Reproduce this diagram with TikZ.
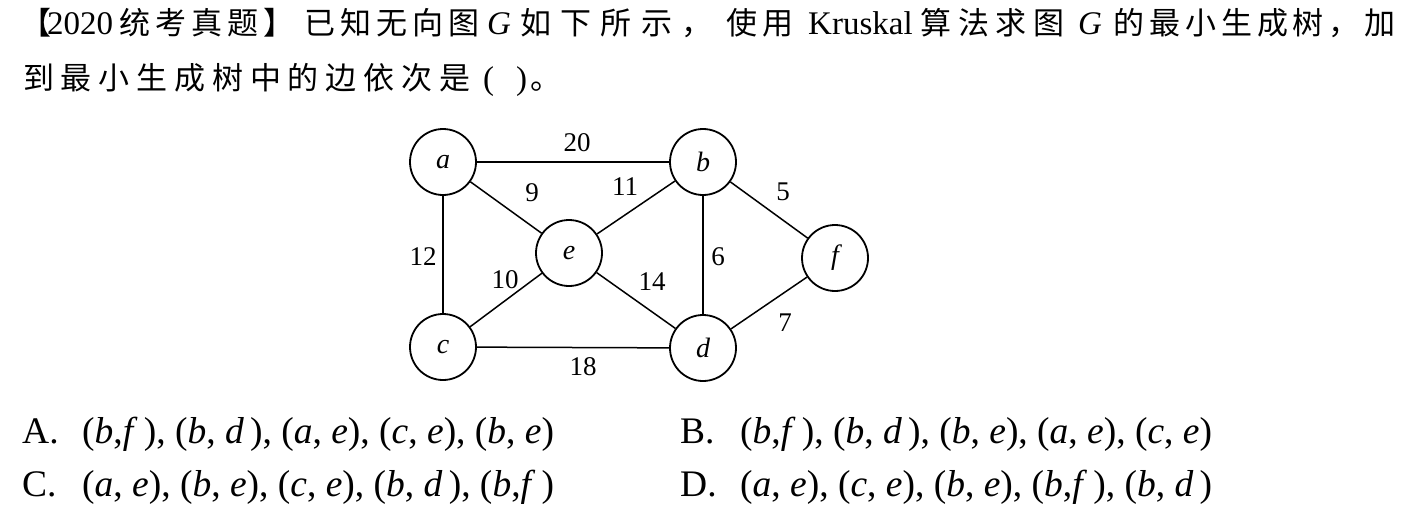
\documentclass[tikz,border=0pt]{standalone}
\usepackage{fontspec}
\setmainfont{Liberation Serif}
\newfontfamily\cjk[LetterSpace=16]{Noto Sans CJK SC}
\newfontfamily\cjkw[LetterSpace=22]{Noto Sans CJK SC}
\newfontfamily\cjkx[LetterSpace=30]{Noto Sans CJK SC}
\begin{document}
\begin{tikzpicture}[x=1pt,y=-1pt,
  vtx/.style={circle,draw,line width=1.8pt,minimum size=66pt,inner sep=0pt,font=\fontsize{28}{30}\selectfont\itshape},
  edg/.style={line width=1.5pt},
  wt/.style={inner sep=0pt,font=\fontsize{27}{30}\selectfont},
  txt/.style={inner sep=0pt,anchor=base west,font=\fontsize{33}{36}\selectfont},
  opt/.style={inner sep=0pt,anchor=base west,font=\fontsize{37.5}{40}\selectfont}]
\useasboundingbox[fill=white] (0,0) rectangle (1420,508);
% question text, line 1
\node[txt] (q1a) at (20,35) {{\cjk\fontsize{31}{36}\selectfont 【}\hspace{-4pt}2020\hspace{6pt}{\cjk\fontsize{31}{36}\selectfont 统考真题】}};
\node[txt] (q1i) at (304,35) {\cjk\fontsize{31}{36}\selectfont 已知无向图};
\node[txt] (q1b) at (487,35) {\textit{G}};
\node[txt] (q1c) at (520,35) {\cjkx\fontsize{31}{36}\selectfont 如下所示，};
\node[txt] (q1h) at (726,35) {\cjk\fontsize{31}{36}\selectfont 使用};
\node[txt] (q1d) at (808,35) {Kruskal};
\node[txt] (q1e) at (920,35) {\cjkw\fontsize{31}{36}\selectfont 算法求图};
\node[txt] (q1f) at (1078,35) {\textit{G}};
\node[txt] (q1g) at (1113,35) {\cjk\fontsize{31}{36}\selectfont 的最小生成树，加};
% line 2
\node[txt] (q2a) at (23,90) {\cjkw\fontsize{31}{36}\selectfont 到最小生成树中的边依次是};
\node[txt] (q2b) at (483,90) {(\hspace{22pt})};
\node[txt] (q2c) at (530,90) {\cjk\fontsize{31}{36}\selectfont 。};
% vertices
\node[vtx] (a) at (443,162) {a};
\node[vtx] (b) at (703,162) {b};
\node[vtx] (c) at (443,347) {c};
\node[vtx] (d) at (703,348) {d};
\node[vtx] (e) at (569,253) {e};
\node[vtx] (f) at (835,258) {f};
% edges
\draw[edg] (a) -- (b);
\draw[edg] (a) -- (e);
\draw[edg] (a) -- (c);
\draw[edg] (b) -- (e);
\draw[edg] (b) -- (d);
\draw[edg] (b) -- (f);
\draw[edg] (e) -- (c);
\draw[edg] (e) -- (d);
\draw[edg] (c) -- (d);
\draw[edg] (d) -- (f);
% weights
\node[wt] (w20) at (577,143) {20};
\node[wt] (w9) at (532,193) {9};
\node[wt] (w11) at (625,187) {11};
\node[wt] (w5) at (783,192) {5};
\node[wt] (w12) at (423,257) {12};
\node[wt] (w10) at (505,280) {10};
\node[wt] (w14) at (652,282) {14};
\node[wt] (w6) at (718,257) {6};
\node[wt] (w7) at (785,323) {7};
\node[wt] (w18) at (583,367) {18};
% options
\node[opt] (oA) at (22,443) {\makebox[60pt][l]{A.}(\textit{b},\textit{f}\,), (\textit{b}, \textit{d}\,), (\textit{a}, \textit{e}), (\textit{c}, \textit{e}), (\textit{b}, \textit{e})};
\node[opt] (oB) at (680,443) {\makebox[60pt][l]{B.}(\textit{b},\textit{f}\,), (\textit{b}, \textit{d}\,), (\textit{b}, \textit{e}), (\textit{a}, \textit{e}), (\textit{c}, \textit{e})};
\node[opt] (oC) at (22,496) {\makebox[60pt][l]{C.}(\textit{a}, \textit{e}), (\textit{b}, \textit{e}), (\textit{c}, \textit{e}), (\textit{b}, \textit{d}\,), (\textit{b},\textit{f}\,)};
\node[opt] (oD) at (680,496) {\makebox[60pt][l]{D.}(\textit{a}, \textit{e}), (\textit{c}, \textit{e}), (\textit{b}, \textit{e}), (\textit{b},\textit{f}\,), (\textit{b}, \textit{d}\,)};
\end{tikzpicture}
\end{document}
